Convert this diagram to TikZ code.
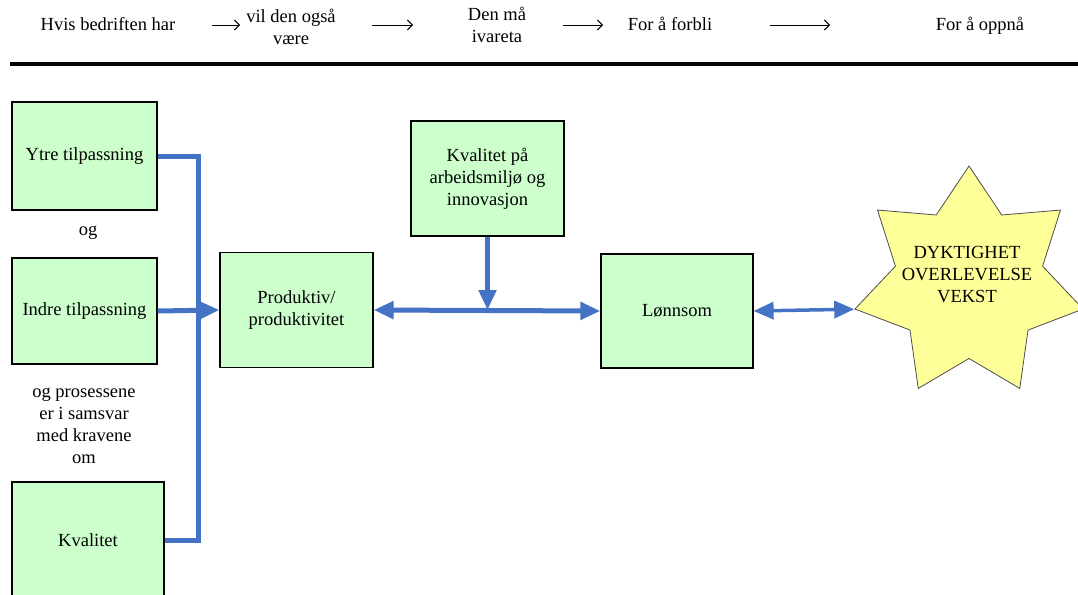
\documentclass[tikz,border=0pt]{standalone}
\usepackage{fontspec}
\setmainfont{Liberation Serif}
\usetikzlibrary{arrows.meta,positioning,shapes.geometric}
\definecolor{boxgreen}{HTML}{CCFFCC}
\definecolor{linkblue}{HTML}{4472C4}
\definecolor{staryellow}{HTML}{FFFF99}

\begin{document}
\begin{tikzpicture}[
  x=1pt,y=-1pt,
  every node/.style={font={\fontsize{18.5}{22}\selectfont},align=center},
  box/.style={draw=black,line width=1.2pt,fill=boxgreen,inner sep=0pt,
              minimum width=145pt,minimum height=108pt},
  wide/.style={box,minimum width=153pt,minimum height=115pt},
  link/.style={draw=linkblue,line width=5pt},
  tip/.style={-{Triangle[length=20pt,width=17pt]}},
  both/.style={{Triangle[length=20pt,width=17pt]}-{Triangle[length=20pt,width=17pt]}},
  hdrarrow/.style={line width=0.9pt,-{Straight Barb[length=5pt,width=10pt]}}
]
\useasboundingbox (0,0) rectangle (1078,594);

% header row
\node[anchor=base] (hvis) at (108,31) {Hvis bedriften har};
\node (vaere) at (291,27) {vil den også\\være};
\node (ivareta) at (497,25) {Den må\\ivareta};
\node[anchor=base] (forbli) at (670,31) {For å forbli};
\node[anchor=base] (oppna) at (980,31) {For å oppnå};
\coordinate (p1a) at (212,25); \coordinate (p1b) at (240,25);
\coordinate (p2a) at (372,25); \coordinate (p2b) at (413,25);
\coordinate (p3a) at (563,25); \coordinate (p3b) at (603,25);
\coordinate (p4a) at (770,25); \coordinate (p4b) at (830,25);
\draw[hdrarrow] (p1a) -- (p1b);
\draw[hdrarrow] (p2a) -- (p2b);
\draw[hdrarrow] (p3a) -- (p3b);
\draw[hdrarrow] (p4a) -- (p4b);
\coordinate (rulea) at (10,64); \coordinate (ruleb) at (1078,64);
\draw[line width=3.5pt] (rulea) -- (ruleb);

% left column
\node[box] (ytre) at (84.5,156) {Ytre tilpassning};
\node[anchor=base] (og) at (88,235) {og};
\node[box,minimum height=106pt] (indre) at (84.5,311) {Indre tilpassning};
\node (krav) at (84,426) {og prosessene\\er i samsvar\\med kravene\\om};
\node[box,minimum width=152pt,minimum height=116pt] (kvalitet) at (88,540) {Kvalitet};

% middle and right
\node[wide] (produktiv) at (296.5,310) {Produktiv/\\produktivitet};
\node[wide] (miljo) at (487.5,178.5) {Kvalitet på\\arbeidsmiljø og\\innovasjon};
\node[wide,minimum width=152pt,minimum height=114pt] (lonnsom) at (677,311) {Lønnsom};
\node[star,star points=7,star point ratio=1.55,minimum size=234pt,inner sep=0pt,
      draw=black!70,line width=0.8pt,fill=staryellow] (maal) at (969,283) {};
\node (maaltekst) at (967,275) {DYKTIGHET\\OVERLEVELSE\\VEKST};

% connectors
\coordinate (bus) at (198,0);
\draw[link] (ytre.east) -- (ytre.east -| bus) -- (kvalitet.east -| bus) -- (kvalitet.east);
\draw[link,tip] (indre.east) -- (produktiv.west);
\draw[link,both] (produktiv.east) -- (lonnsom.west);
\draw[link,tip] (miljo.south) -- (miljo.south |- produktiv.east);
\draw[link,line width=3.5pt,both] (lonnsom.east) -- (maal.outer point 3);
\end{tikzpicture}
\end{document}
